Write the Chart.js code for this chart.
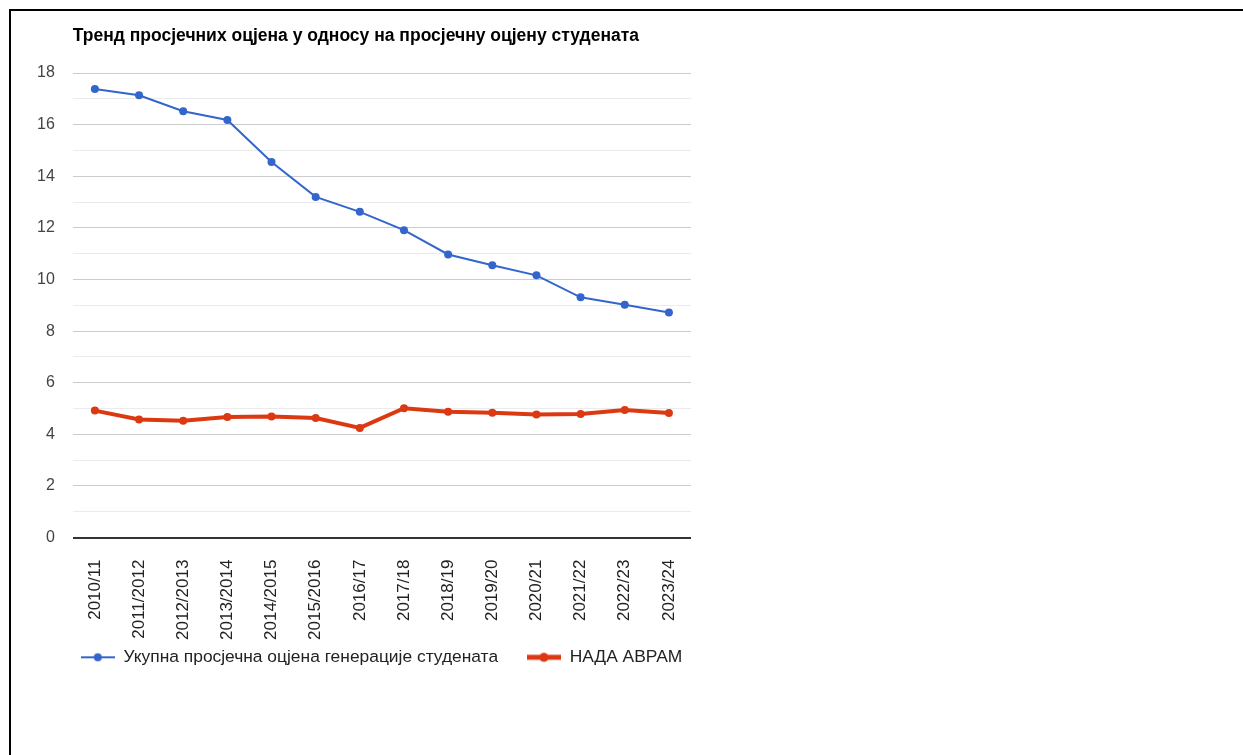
<!DOCTYPE html>
<html>
<head>
<meta charset="utf-8">
<script src="https://cdn.jsdelivr.net/npm/chart.js@4.4.1/dist/chart.umd.min.js"></script>
<style>
  html, body { margin: 0; padding: 0; background: #fff; overflow: hidden; }
  .frame {
    position: absolute; left: 9px; top: 9px; width: 2000px; height: 2000px;
    border-top: 2px solid #000; border-left: 2px solid #000;
  }
  .chart-box { position: absolute; left: 0; top: 0; width: 720px; height: 676px; }
</style>
</head>
<body>
<div class="frame"></div>
<div class="chart-box"><canvas id="chart-line"></canvas></div>
<script>
// ── Data ─────────────────────────────────────────────
const seasons = ['2010/11', '2011/2012', '2012/2013', '2013/2014', '2014/2015', '2015/2016',
    '2016/17', '2017/18', '2018/19', '2019/20', '2020/21', '2021/22', '2022/23', '2023/24'];
const overallAvg = [17.38, 17.14, 16.52, 16.18, 14.55, 13.2, 12.62, 11.91, 10.97, 10.55, 10.16, 9.31, 9.02, 8.72];
const nadaAvram = [4.92, 4.58, 4.53, 4.67, 4.69, 4.63, 4.25, 5.01, 4.88, 4.84, 4.77, 4.79, 4.94, 4.83];
const seriesNames = ['Укупна просјечна оцјена генерације студената', 'НАДА АВРАМ'];
const yMin = 0, yMax = 18, yStep = 1, yLabelEvery = 2;

const BLUE = '#3366cc';
const RED = '#dc3912';
const FONT = 'Arial, "Liberation Sans", sans-serif';

// small line+dot icon for the legend
function legendIcon(color, lineW, r) {
    const c = document.createElement('canvas');
    c.width = 34; c.height = 12;
    const g = c.getContext('2d');
    g.strokeStyle = color;
    g.lineWidth = lineW;
    g.beginPath(); g.moveTo(0, 6); g.lineTo(34, 6); g.stroke();
    g.fillStyle = color;
    g.beginPath(); g.arc(17, 6, r, 0, Math.PI * 2); g.fill();
    return c;
}
const icons = [legendIcon(BLUE, 2, 4), legendIcon(RED, 5, 4.5)];

new Chart(document.getElementById('chart-line'), {
    type: 'line',
    data: {
        labels: seasons,
        datasets: [
            {
                label: seriesNames[0],
                data: overallAvg,
                borderColor: BLUE,
                backgroundColor: BLUE,
                borderWidth: 2,
                pointRadius: 4,
                pointBorderWidth: 0,
                pointBackgroundColor: BLUE,
                tension: 0,
            },
            {
                label: seriesNames[1],
                data: nadaAvram,
                borderColor: RED,
                backgroundColor: RED,
                borderWidth: 4,
                pointRadius: 4,
                pointBorderWidth: 0,
                pointBackgroundColor: RED,
                tension: 0,
            }
        ]
    },
    options: {
        responsive: true,
        maintainAspectRatio: false,
        animation: false,
        layout: { padding: { left: 19, right: 29, top: 0, bottom: 0 } },
        plugins: {
            title: {
                display: true,
                text: 'Тренд просјечних оцјена у односу на просјечну оцјену студената',
                align: 'start',
                fullSize: false,
                color: '#000',
                font: { family: FONT, size: 17.5, weight: 'bold' },
                padding: { top: 26, bottom: 26 }
            },
            legend: {
                position: 'bottom',
                align: 'start',
                fullSize: false,
                labels: {
                    usePointStyle: true,
                    pointStyleWidth: 34,
                    padding: 8,
                    color: '#222',
                    font: { family: FONT, size: 17.4 },
                    // extra gap after the first entry
                    generateLabels: chart => chart.data.datasets.map((ds, i) => ({
                        text: i === 0 ? ds.label + '\u2003\u2009' : ds.label,
                        pointStyle: icons[i],
                        fillStyle: ds.borderColor,
                        strokeStyle: ds.borderColor,
                        lineWidth: 0,
                        hidden: false,
                        datasetIndex: i,
                        fontColor: '#222'
                    }))
                }
            },
            tooltip: { enabled: false }
        },
        scales: {
            y: {
                min: yMin,
                max: yMax,
                border: { display: false },
                grid: {
                    drawTicks: false,
                    color: c => c.tick.value === 0 ? '#333' : (c.tick.value % yLabelEvery === 0 ? '#cccccc' : '#ebebeb'),
                    lineWidth: c => c.tick.value === 0 ? 2 : 1
                },
                ticks: {
                    stepSize: yStep,
                    padding: 18,
                    color: '#444',
                    font: { family: FONT, size: 16 },
                    callback: v => v % yLabelEvery === 0 ? String(v) : ''
                }
            },
            x: {
                offset: true,
                border: { display: false },
                grid: { display: false, drawTicks: false },
                afterFit: scale => { scale.height = 103; },
                ticks: {
                    minRotation: 90,
                    maxRotation: 90,
                    autoSkip: false,
                    padding: 22,
                    color: '#222',
                    font: { family: FONT, size: 17 }
                }
            }
        }
    }
});
</script>
</body>
</html>
